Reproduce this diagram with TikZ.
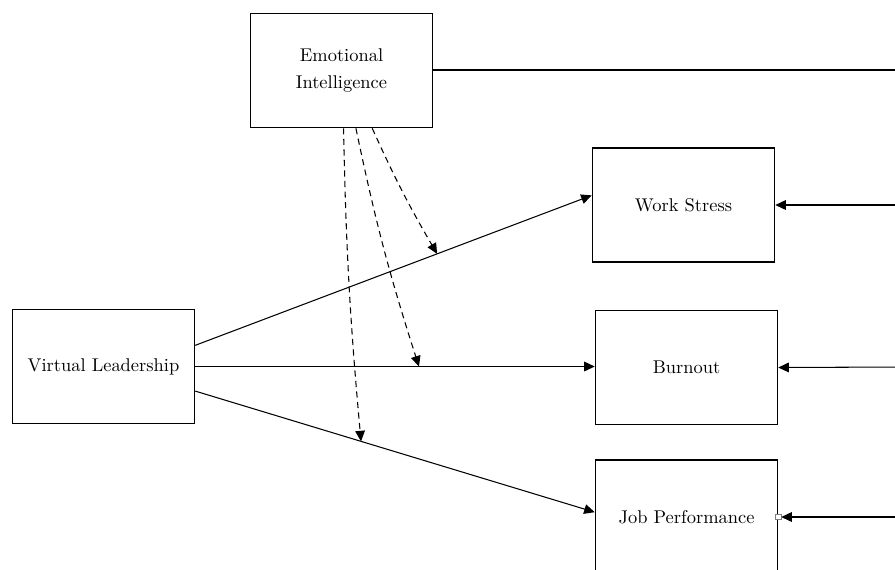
\documentclass[tikz,border=0pt]{standalone}
\usepackage{amsmath,amssymb}
\usetikzlibrary{arrows.meta}

\begin{document}
\begin{tikzpicture}[x=0.02cm,y=-0.02cm,
	box/.style={draw,line width=0.9pt,minimum width=3.64cm,minimum height=2.28cm,align=center,font=\fontsize{10.5}{15}\selectfont},
	link/.style={line width=0.6pt,-{Triangle[length=6pt,width=5.5pt]}},
	moderate/.style={link,dash pattern=on 3.5pt off 2.5pt}]
					\clip (0,0) rectangle (895,569);
					\node[box] (ei) at (341.5,70.5) {Emotional\\Intelligence};
					\node[box] (ws) at (683.5,205) {Work Stress};
					\node[box] (bo) at (686.5,367.5) {Burnout};
					\node[box] (jp) at (686.5,517) {Job Performance};
					\node[box] (vl) at (103.5,366.5) {Virtual Leadership};
					\coordinate (eiout) at (900,70);
					\coordinate (wsin) at (900,205);
					\coordinate (boin) at (900,367);
					\coordinate (jpin) at (900,517);
					\draw[line width=0.6pt] (ei.east |- eiout) to (eiout);
					\draw[link] (vl.13) to coordinate[pos=0.61] (m1) (ws.174);
					\draw[link] (vl.east) to coordinate[pos=0.56] (m2) (bo.west |- vl.east);
					\draw[link] (vl.-15) to coordinate[pos=0.415] (m3) (jp.177.5);
					\draw[moderate] (ei.-62) to[bend right=3] (m1);
					\draw[moderate] (ei.-76.8) to[bend right=3] (m2);
					\draw[moderate] (ei.-88.5) to[bend right=2] (m3);
					\draw[link] (wsin) to (ws.east);
					\draw[link] (boin) to (bo.east);
					\node[draw=gray,fill=white,inner sep=0pt,minimum size=3pt] (jpdot) at (jp.east) {};
					\draw[link] (jpin) to (jpdot.east);
				\end{tikzpicture}
\end{document}
